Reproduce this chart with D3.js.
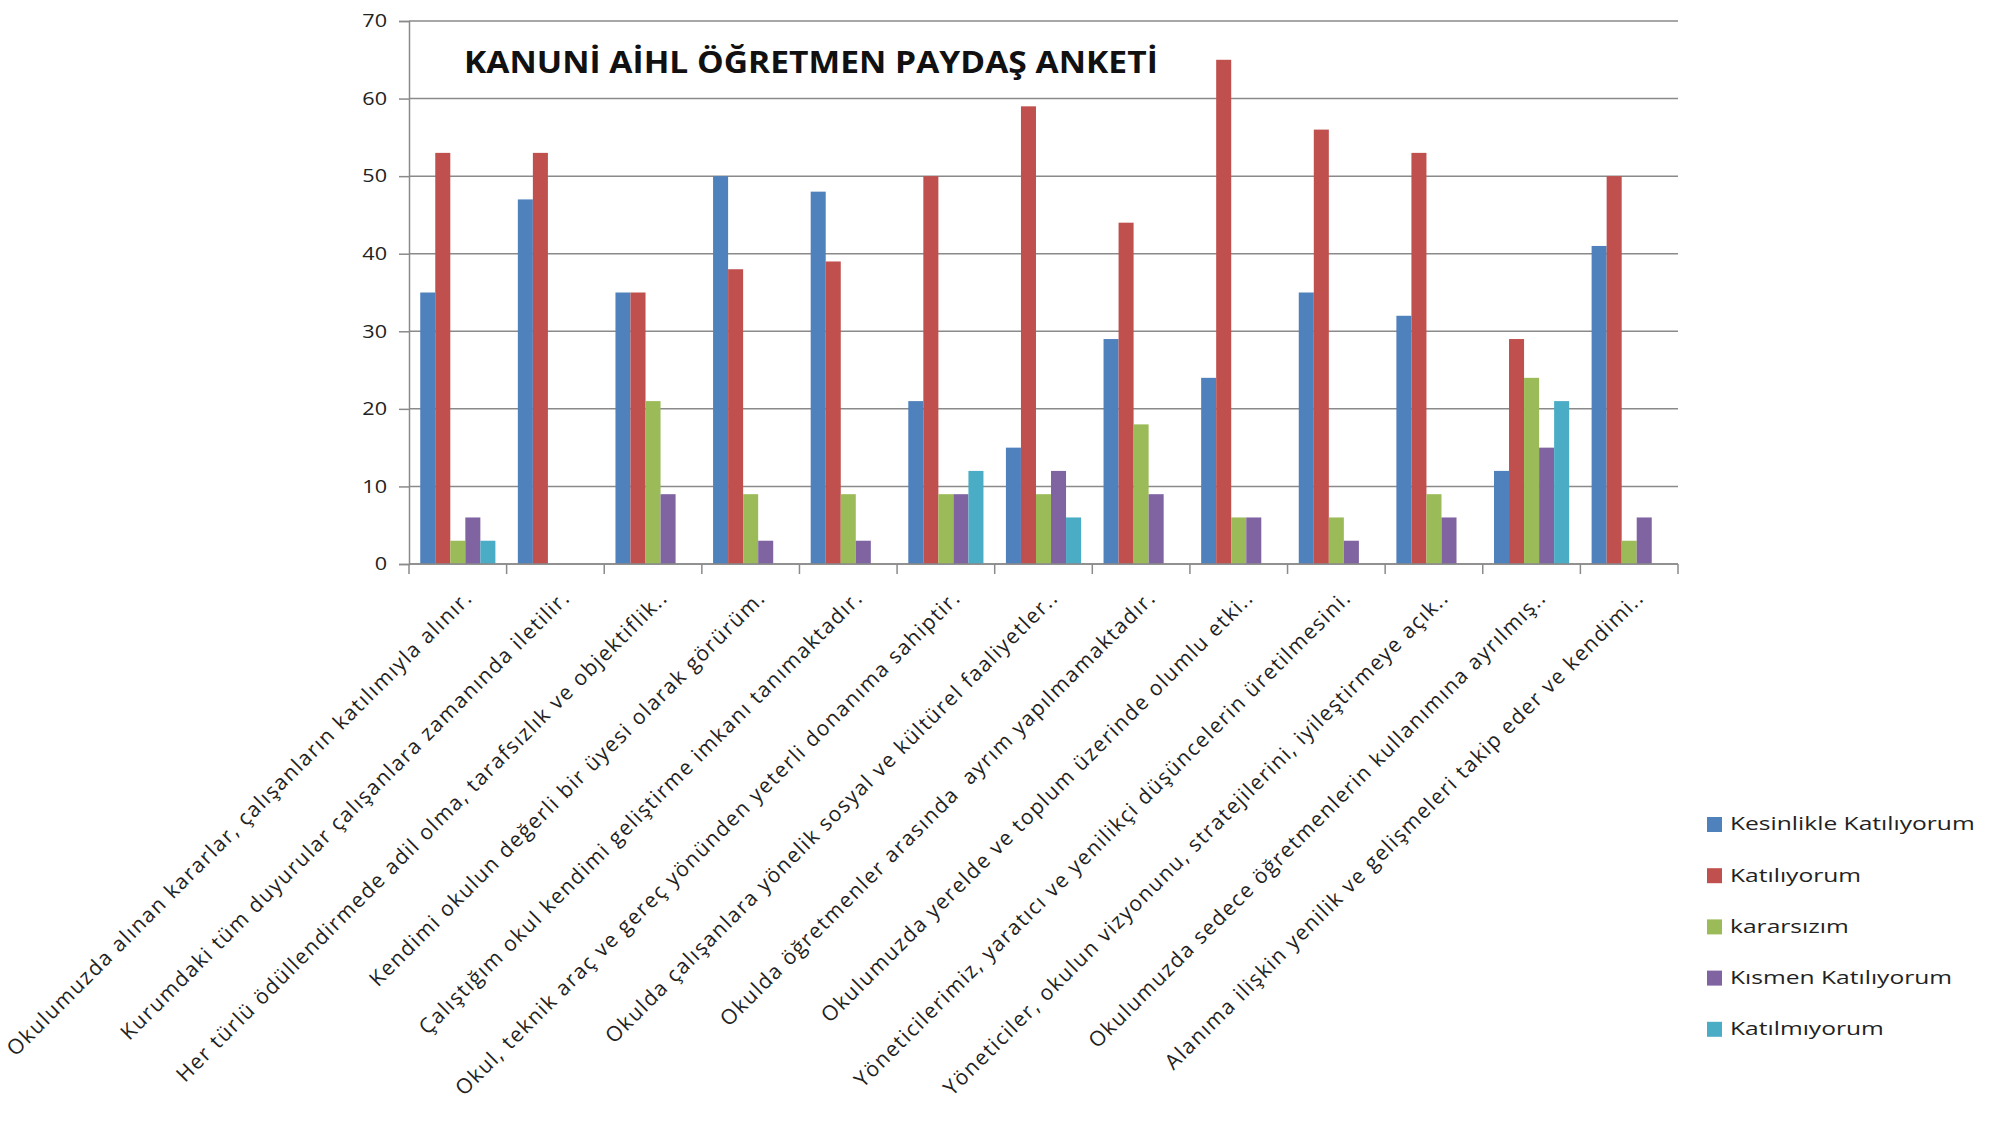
<!DOCTYPE html>
<html>
<head>
<meta charset="utf-8">
<script src="https://cdn.jsdelivr.net/npm/d3@7"></script>
<style>
  body { margin: 0; background: #fff; }
  svg { display: block; font-family: "Open Sans", sans-serif; }
</style>
</head>
<body>
<div id="chart"></div>
<script>
// survey questions (x categories)
const categories = [
    "Okulumuzda alınan kararlar, çalışanların katılımıyla alınır.",
    "Kurumdaki tüm duyurular çalışanlara zamanında iletilir.",
    "Her türlü ödüllendirmede adil olma, tarafsızlık ve objektiflik..",
    "Kendimi okulun değerli bir üyesi olarak görürüm.",
    "Çalıştığım okul kendimi geliştirme imkanı tanımaktadır.",
    "Okul, teknik araç ve gereç yönünden yeterli donanıma sahiptir.",
    "Okulda çalışanlara yönelik sosyal ve kültürel faaliyetler..",
    "Okulda öğretmenler arasında  ayrım yapılmamaktadır.",
    "Okulumuzda yerelde ve toplum üzerinde olumlu etki..",
    "Yöneticilerimiz, yaratıcı ve yenilikçi düşüncelerin üretilmesini.",
    "Yöneticiler, okulun vizyonunu, stratejilerini, iyileştirmeye açık..",
    "Okulumuzda sedece öğretmenlerin kullanımına ayrılmış..",
    "Alanıma ilişkin yenilik ve gelişmeleri takip eder ve kendimi.."
];

const seriesNames = ["Kesinlikle Katılıyorum", "Katılıyorum", "kararsızım", "Kısmen Katılıyorum", "Katılmıyorum"];
const seriesColors = ["#4F81BD", "#C0504D", "#9BBB59", "#8064A2", "#4BACC6"];

const kesinlikle = [35, 47, 35, 50, 48, 21, 15, 29, 24, 35, 32, 12, 41];
const katiliyorum = [53, 53, 35, 38, 39, 50, 59, 44, 65, 56, 53, 29, 50];
const kararsizim = [3, 0, 21, 9, 9, 9, 9, 18, 6, 6, 9, 24, 3];
const kismen = [6, 0, 9, 3, 3, 9, 12, 9, 6, 3, 6, 15, 6];
const katilmiyorum = [3, 0, 0, 0, 0, 12, 6, 0, 0, 0, 0, 21, 0];

const yTicks = [0, 10, 20, 30, 40, 50, 60, 70];
const title = "KANUNİ AİHL ÖĞRETMEN PAYDAŞ ANKETİ";

const allSeries = [kesinlikle, katiliyorum, kararsizim, kismen, katilmiyorum];

const width = 2011, height = 1121;
const plot = { left: 409, right: 1678, top: 21, bottom: 564 };
const axisColor = "#8a8a8a";

const svg = d3.select("#chart").append("svg")
    .attr("width", width)
    .attr("height", height);

const x = d3.scaleBand()
    .domain(categories)
    .range([plot.left, plot.right])
    .paddingInner(0.23)
    .paddingOuter(0.115);

const xSub = d3.scaleBand()
    .domain(d3.range(seriesNames.length))
    .range([0, x.bandwidth()]);

const y = d3.scaleLinear()
    .domain([0, 70])
    .range([plot.bottom, plot.top]);

// gridlines
svg.append("g")
    .selectAll("line")
    .data(yTicks)
    .join("line")
    .attr("x1", plot.left)
    .attr("x2", plot.right)
    .attr("y1", d => y(d))
    .attr("y2", d => y(d))
    .attr("stroke", axisColor)
    .attr("stroke-width", 1.5);

// bars
const groups = svg.append("g")
    .selectAll("g")
    .data(categories)
    .join("g")
    .attr("transform", d => `translate(${x(d)},0)`);

groups.selectAll("rect")
    .data((d, i) => allSeries.map((s, k) => ({ k: k, v: s[i] })))
    .join("rect")
    .attr("x", d => xSub(d.k))
    .attr("width", xSub.bandwidth())
    .attr("y", d => y(d.v))
    .attr("height", d => y(0) - y(d.v))
    .attr("fill", d => seriesColors[d.k]);

// y axis
const yAxis = svg.append("g")
    .attr("transform", `translate(${plot.left},0)`)
    .call(d3.axisLeft(y).tickValues(yTicks).tickSize(10).tickPadding(12));
yAxis.select(".domain").attr("stroke", axisColor).attr("stroke-width", 1.5);
yAxis.selectAll(".tick line").attr("stroke", axisColor).attr("stroke-width", 1.5);
yAxis.selectAll(".tick text")
    .attr("x", -22 / 1.2)
    .attr("transform", "scale(1.2,1)")
    .style("font-size", "18px")
    .style("font-family", "Open Sans")
    .attr("fill", "#222");

// x axis line and ticks at category borders
const borders = d3.range(categories.length + 1).map(i => plot.left + i * (plot.right - plot.left) / categories.length);
svg.append("line")
    .attr("x1", plot.left).attr("x2", plot.right)
    .attr("y1", plot.bottom).attr("y2", plot.bottom)
    .attr("stroke", axisColor).attr("stroke-width", 1.5);
svg.append("g")
    .selectAll("line")
    .data(borders)
    .join("line")
    .attr("x1", d => d).attr("x2", d => d)
    .attr("y1", plot.bottom).attr("y2", plot.bottom + 10)
    .attr("stroke", axisColor).attr("stroke-width", 1.5);

// rotated category labels
svg.append("g")
    .selectAll("text")
    .data(categories)
    .join("text")
    .attr("transform", d => `translate(${x(d) + x.bandwidth() / 2 + 16},599) rotate(-45)`)
    .attr("text-anchor", "end")
    .style("font-size", "21px")
    .style("letter-spacing", "1.5px")
    .style("white-space", "pre")
    .attr("fill", "#222")
    .text(d => d);

// title
svg.append("text")
    .attr("transform", "translate(464,73) scale(1.12,1)")
    .style("font-size", "30px")
    .style("font-weight", "bold")
    .attr("fill", "#111")
    .text(title);

// legend
const legend = svg.append("g")
    .selectAll("g")
    .data(seriesNames)
    .join("g")
    .attr("transform", (d, i) => `translate(1707,${824 + i * 51.2})`);

legend.append("rect")
    .attr("x", 0)
    .attr("y", -7)
    .attr("width", 15)
    .attr("height", 15)
    .attr("fill", (d, i) => seriesColors[i]);

legend.append("text")
    .attr("transform", "translate(23,0) scale(1.33,1)")
    .attr("dy", "0.35em")
    .style("font-size", "18.5px")
    .attr("fill", "#222")
    .text(d => d);
</script>
</body>
</html>
